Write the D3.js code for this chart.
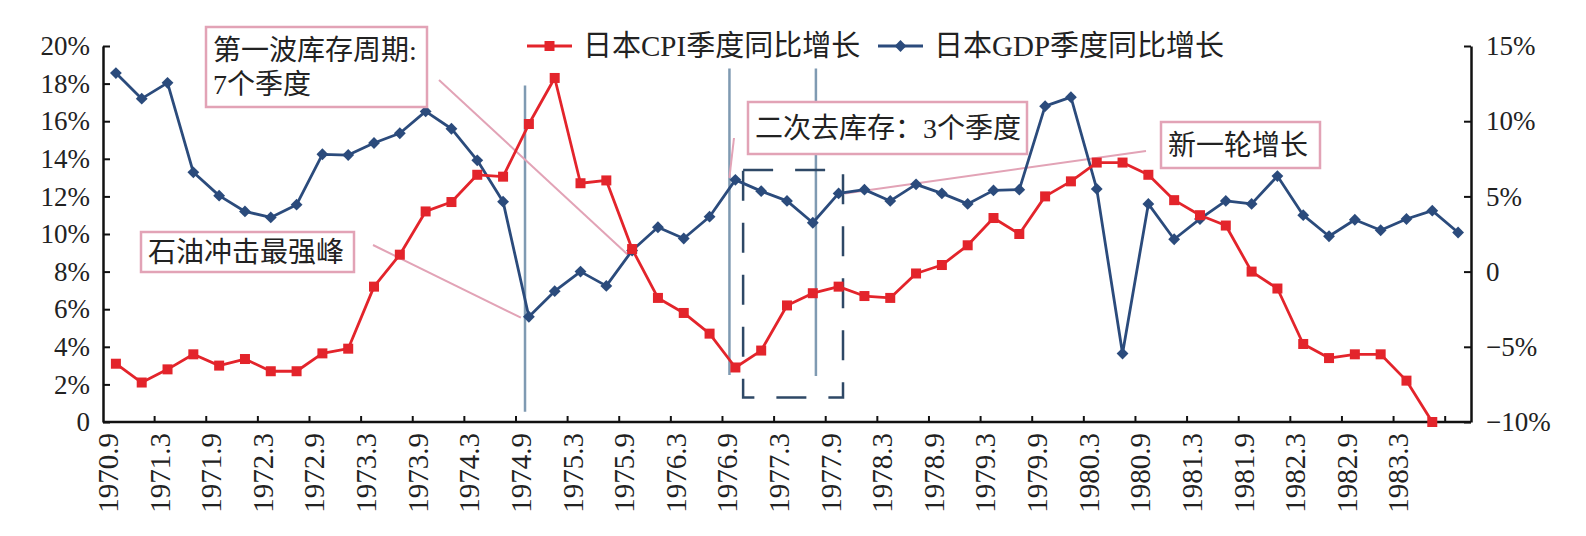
<!DOCTYPE html>
<html>
<head>
<meta charset="utf-8">
<script src="https://cdn.jsdelivr.net/npm/d3@7"></script>
<style>
  body { margin: 0; background: #fff; }
</style>
</head>
<body>
<script>
const quarters = [
  "1970.9", "1970.12", "1971.3", "1971.6", "1971.9", "1971.12",
  "1972.3", "1972.6", "1972.9", "1972.12", "1973.3", "1973.6",
  "1973.9", "1973.12", "1974.3", "1974.6", "1974.9", "1974.12",
  "1975.3", "1975.6", "1975.9", "1975.12", "1976.3", "1976.6",
  "1976.9", "1976.12", "1977.3", "1977.6", "1977.9", "1977.12",
  "1978.3", "1978.6", "1978.9", "1978.12", "1979.3", "1979.6",
  "1979.9", "1979.12", "1980.3", "1980.6", "1980.9", "1980.12",
  "1981.3", "1981.6", "1981.9", "1981.12", "1982.3", "1982.6",
  "1982.9", "1982.12", "1983.3", "1983.6", "1983.9"
];

const tickLabels = [
  "1970.9", "1971.3", "1971.9", "1972.3", "1972.9", "1973.3", "1973.9",
  "1974.3", "1974.9", "1975.3", "1975.9", "1976.3", "1976.9", "1977.3",
  "1977.9", "1978.3", "1978.9", "1979.3", "1979.9", "1980.3", "1980.9",
  "1981.3", "1981.9", "1982.3", "1982.9", "1983.3"
];

// 日本CPI季度同比增长 (left axis, %)
const cpi = [
  3.1, 2.1, 2.8, 3.6, 3.0, 3.35, 2.7, 2.7, 3.65, 3.9,
  7.2, 8.9, 11.2, 11.7, 13.15, 13.05, 15.85, 18.3, 12.7, 12.85,
  9.2, 6.6, 5.8, 4.7, 2.9, 3.8, 6.2, 6.85, 7.2, 6.7,
  6.6, 7.9, 8.35, 9.4, 10.85, 10.0, 12.0, 12.8, 13.8, 13.8,
  13.15, 11.8, 11.0, 10.45, 8.0, 7.1, 4.15, 3.4, 3.6, 3.6,
  2.2, 0.0
];

// 日本GDP季度同比增长 (right axis, %)
const gdp = [
  13.2, 11.5, 12.55, 6.6, 5.05, 4.0, 3.6, 4.45, 7.8, 7.75,
  8.55, 9.2, 10.65, 9.5, 7.4, 4.65, -3.0, -1.3, 0.0, -0.95,
  1.4, 2.95, 2.2, 3.65, 6.1, 5.35, 4.7, 3.25, 5.2, 5.45,
  4.7, 5.8, 5.2, 4.5, 5.4, 5.45, 11.0, 11.6, 5.5, -5.45,
  4.5, 2.15, 3.5, 4.7, 4.5, 6.35, 3.75, 2.35, 3.45, 2.75,
  3.5, 4.05, 2.6
];

const seriesNames = ["日本CPI季度同比增长", "日本GDP季度同比增长"];
const leftTicks = [0, 2, 4, 6, 8, 10, 12, 14, 16, 18, 20];
const rightTicks = [-10, -5, 0, 5, 10, 15];

const width = 1586;
const height = 536;
const plot = { left: 103, right: 1471, top: 46, bottom: 422 };

const red = "#e3242b";
const navy = "#2b4b7c";
const pink = "#e2a3b6";
const steel = "#7f9ab2";
const ink = "#222";
const serif = "'Liberation Serif', 'Times New Roman', serif";
const cjk = "'Liberation Serif', 'Noto Sans CJK SC', serif";

const xScale = d3
  .scaleBand()
  .domain(quarters)
  .range([plot.left, plot.right])
  .padding(0);

// fractional category position, for annotations
const xIdx = d3
  .scaleLinear()
  .domain([0, quarters.length])
  .range([plot.left, plot.right]);

const cx = (i) => xScale(quarters[i]) + xScale.bandwidth() / 2;

const yLeft = d3.scaleLinear().domain([0, 20]).range([plot.bottom, plot.top]);
const yRight = d3.scaleLinear().domain([-10, 15]).range([plot.bottom, plot.top]);

const svg = d3
  .select("body")
  .append("svg")
  .attr("width", width)
  .attr("height", height)
  .attr("viewBox", `0 0 ${width} ${height}`);

// ---- axes
const leftAxis = d3
  .axisLeft(yLeft)
  .tickValues(leftTicks)
  .tickSizeInner(-7)
  .tickSizeOuter(0)
  .tickPadding(13)
  .tickFormat((d) => (d === 0 ? "0" : `${d}%`));

const rightAxis = d3
  .axisRight(yRight)
  .tickValues(rightTicks)
  .tickSizeInner(-7)
  .tickSizeOuter(0)
  .tickPadding(15)
  .tickFormat((d) => (d === 0 ? "0" : `${d < 0 ? "\u2212" : ""}${Math.abs(d)}%`));

const axisGroup = svg.append("g");

axisGroup
  .append("g")
  .attr("class", "axis y-left")
  .attr("transform", `translate(${plot.left} 0)`)
  .call(leftAxis);

axisGroup
  .append("g")
  .attr("class", "axis y-right")
  .attr("transform", `translate(${plot.right} 0)`)
  .call(rightAxis);

axisGroup.selectAll("path.domain").attr("stroke", "#111").attr("stroke-width", 2.5);
axisGroup.selectAll(".tick line").attr("stroke", "#111").attr("stroke-width", 2);
axisGroup
  .selectAll(".tick text")
  .attr("font-family", serif)
  .attr("font-size", 27)
  .attr("fill", ink);

// x axis: ticks between every second quarter, pointing inward
const xAxisGroup = axisGroup.append("g").attr("class", "axis x-axis");

xAxisGroup
  .append("line")
  .attr("x1", plot.left)
  .attr("x2", plot.right)
  .attr("y1", plot.bottom)
  .attr("y2", plot.bottom)
  .attr("stroke", "#111")
  .attr("stroke-width", 2.5);

xAxisGroup
  .selectAll("line.xtick")
  .data(d3.range(2, quarters.length, 2))
  .enter()
  .append("line")
  .attr("class", "xtick")
  .attr("x1", (i) => xScale(quarters[i]))
  .attr("x2", (i) => xScale(quarters[i]))
  .attr("y1", plot.bottom)
  .attr("y2", plot.bottom - 6)
  .attr("stroke", "#111")
  .attr("stroke-width", 2);

xAxisGroup
  .selectAll("text")
  .data(tickLabels)
  .enter()
  .append("text")
  .attr("transform", (d) => `translate(${cx(quarters.indexOf(d)) - 8} ${plot.bottom + 11}) rotate(-90)`)
  .attr("text-anchor", "end")
  .attr("dominant-baseline", "central")
  .attr("font-family", serif)
  .attr("font-size", 29)
  .attr("fill", ink)
  .text((d) => d);

// ---- annotations under the data
const annoGroup = svg.append("g");

// vertical markers
const markers = [
  { at: 16.35, from: 17.9, to: 0.55 },
  { at: 24.27, from: 18.8, to: 2.5 },
  { at: 27.62, from: 18.8, to: 2.45 },
];

annoGroup
  .selectAll("line.marker")
  .data(markers)
  .enter()
  .append("line")
  .attr("class", "marker")
  .attr("x1", (d) => xIdx(d.at))
  .attr("x2", (d) => xIdx(d.at))
  .attr("y1", (d) => yLeft(d.from))
  .attr("y2", (d) => yLeft(d.to))
  .attr("stroke", steel)
  .attr("stroke-width", 2.5);

// dashed box round the second destocking
annoGroup
  .append("rect")
  .attr("x", xIdx(24.8))
  .attr("y", yLeft(13.4))
  .attr("width", xIdx(28.67) - xIdx(24.8))
  .attr("height", yLeft(1.3) - yLeft(13.4))
  .attr("fill", "none")
  .attr("stroke", "#2e4866")
  .attr("stroke-width", 2.5)
  .attr("stroke-dasharray", "30 22");

// callout lines
const callouts = [
  { x1: 373, y1: 245, x2: cx(16) - 8, y2: yRight(gdp[16]) + 1 },
  { x1: 439, y1: 80, x2: cx(20) - 4, y2: yLeft(cpi[20]) + 6 },
  { x1: 734, y1: 138, x2: cx(24) - 6, y2: yRight(gdp[24]) - 2 },
  { x1: 1146, y1: 151, x2: cx(28) + 6, y2: yRight(gdp[28]) },
];

annoGroup
  .selectAll("line.callout")
  .data(callouts)
  .enter()
  .append("line")
  .attr("class", "callout")
  .attr("x1", (d) => d.x1)
  .attr("y1", (d) => d.y1)
  .attr("x2", (d) => d.x2)
  .attr("y2", (d) => d.y2)
  .attr("stroke", pink)
  .attr("stroke-width", 2);

// ---- series
const dataGroup = svg.append("g");

const cpiLine = d3
  .line()
  .x((d, i) => cx(i))
  .y((d) => yLeft(d));

const gdpLine = d3
  .line()
  .x((d, i) => cx(i))
  .y((d) => yRight(d));

dataGroup
  .append("path")
  .attr("d", gdpLine(gdp))
  .attr("fill", "none")
  .attr("stroke", navy)
  .attr("stroke-width", 2.8)
  .attr("stroke-linejoin", "round");

dataGroup
  .append("path")
  .attr("d", cpiLine(cpi))
  .attr("fill", "none")
  .attr("stroke", red)
  .attr("stroke-width", 2.8)
  .attr("stroke-linejoin", "round");

const diamond = d3.symbol(d3.symbolSquare, 70);

dataGroup
  .selectAll("path.gdp")
  .data(gdp)
  .enter()
  .append("path")
  .attr("class", "gdp")
  .attr("d", diamond)
  .attr("transform", (d, i) => `translate(${cx(i)} ${yRight(d)}) rotate(45)`)
  .attr("fill", navy);

dataGroup
  .selectAll("rect.cpi")
  .data(cpi)
  .enter()
  .append("rect")
  .attr("class", "cpi")
  .attr("x", (d, i) => cx(i) - 5)
  .attr("y", (d) => yLeft(d) - 5)
  .attr("width", 10)
  .attr("height", 10)
  .attr("fill", red);

// ---- legend
const legend = svg.append("g");

const legendItems = [
  { name: seriesNames[0], color: red, x: 527, shape: "square" },
  { name: seriesNames[1], color: navy, x: 878, shape: "diamond" },
];

const items = legend
  .selectAll("g")
  .data(legendItems)
  .enter()
  .append("g")
  .attr("transform", (d) => `translate(${d.x} 46)`);

items
  .append("line")
  .attr("x1", 0)
  .attr("x2", 45)
  .attr("stroke", (d) => d.color)
  .attr("stroke-width", 2.8);

items
  .append("path")
  .attr("d", (d) => d3.symbol(d3.symbolSquare, d.shape === "square" ? 100 : 70)())
  .attr("transform", (d) => `translate(22.5 0) rotate(${d.shape === "square" ? 0 : 45})`)
  .attr("fill", (d) => d.color);

items
  .append("text")
  .attr("x", 56)
  .attr("dominant-baseline", "central")
  .attr("font-family", cjk)
  .attr("font-size", 29)
  .attr("fill", ink)
  .text((d) => d.name);

// ---- annotation boxes
const boxes = [
  { x: 206, y: 27, w: 221, h: 80, lines: ["第一波库存周期:", "7个季度"] },
  { x: 141, y: 232, w: 213, h: 40, lines: ["石油冲击最强峰"] },
  { x: 748, y: 102, w: 279, h: 52, lines: ["二次去库存：3个季度"] },
  { x: 1161, y: 122, w: 159, h: 46, lines: ["新一轮增长"] },
];

const boxGroups = svg
  .append("g")
  .selectAll("g")
  .data(boxes)
  .enter()
  .append("g")
  .attr("transform", (d) => `translate(${d.x} ${d.y})`);

boxGroups
  .append("rect")
  .attr("width", (d) => d.w)
  .attr("height", (d) => d.h)
  .attr("fill", "#fff")
  .attr("stroke", pink)
  .attr("stroke-width", 2.5);

boxGroups
  .selectAll("text")
  .data((d) => d.lines.map((t, i) => ({ t, i, n: d.lines.length, h: d.h })))
  .enter()
  .append("text")
  .attr("x", 7)
  .attr("y", (d) => (d.h / d.n) * (d.i + 0.5) + (d.n > 1 ? (d.i === 0 ? 3 : -3) : 0))
  .attr("dominant-baseline", "central")
  .attr("font-family", cjk)
  .attr("font-size", 28)
  .attr("fill", ink)
  .text((d) => d.t);
</script>
</body>
</html>
